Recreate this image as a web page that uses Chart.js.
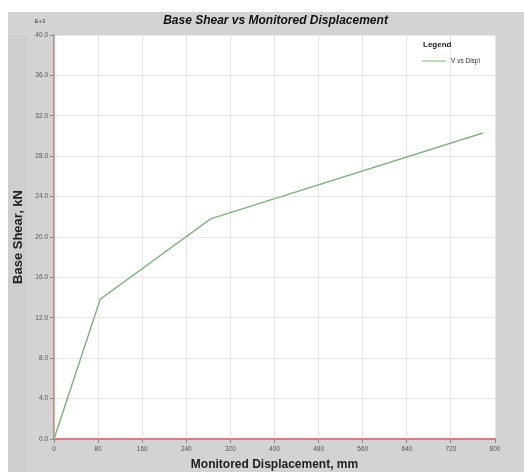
<!DOCTYPE html>
<html>
<head>
<meta charset="utf-8">
<script src="https://cdn.jsdelivr.net/npm/chart.js@4/dist/chart.umd.min.js"></script>
<style>
  html,body{margin:0;padding:0;background:#fff;}
  #wrap{width:524px;height:472px;position:relative;}
</style>
</head>
<body>
<div id="wrap"><canvas id="c" width="524" height="472"></canvas></div>
<script>
// ---- data ----
const displacement = [0, 84, 284, 778];          // mm
const baseShear    = [0, 13.85, 21.8, 30.3];     // kN x 1E+3
const xTicks = [0, 80, 160, 240, 320, 400, 480, 560, 640, 720, 800];
const yTicks = [0, 4, 8, 12, 16, 20, 24, 28, 32, 36, 40];
const seriesLabel = 'V vs Displ';
const chartTitle = 'Base Shear vs Monitored Displacement';
const xTitle = 'Monitored Displacement, mm';
const yTitle = 'Base Shear, kN';
const yUnit = 'E+3';

const FONT = '"Liberation Sans", Arial, sans-serif';
const GRAY = '#d3d3d3';

const bgPlugin = {
  id: 'bg',
  beforeDraw(chart) {
    const {ctx, chartArea: a} = chart;
    ctx.save();
    ctx.fillStyle = '#ffffff';
    ctx.fillRect(0, 0, chart.width, chart.height);
    ctx.fillStyle = GRAY;
    ctx.fillRect(8, 12, chart.width - 8, chart.height - 12);
    ctx.fillStyle = '#cecece';
    ctx.fillRect(8, 35, 19, chart.height - 35);
    ctx.fillStyle = '#ffffff';
    ctx.fillRect(a.left, a.top, a.right - a.left, a.bottom - a.top);
    ctx.restore();
  },
  afterDraw(chart) {
    const {ctx, chartArea: a} = chart;
    ctx.save();
    // title
    ctx.fillStyle = '#111';
    ctx.font = 'italic bold 12px ' + FONT;
    ctx.textAlign = 'center';
    ctx.textBaseline = 'middle';
    ctx.fillText(chartTitle, (a.left + a.right) / 2 + 1, 21);
    // unit
    ctx.font = '6px ' + FONT;
    ctx.fillStyle = '#444';
    ctx.textAlign = 'center';
    ctx.fillText(yUnit, 40, 21);
    // legend
    ctx.font = 'bold 8px ' + FONT;
    ctx.fillStyle = '#222';
    ctx.textAlign = 'left';
    ctx.fillText('Legend', 423, 45);
    ctx.strokeStyle = '#8cc48c';
    ctx.lineWidth = 1.2;
    ctx.beginPath();
    ctx.moveTo(422, 61);
    ctx.lineTo(446, 61);
    ctx.stroke();
    ctx.font = '6.5px ' + FONT;
    ctx.fillStyle = '#333';
    ctx.fillText(chart.data.datasets[0].label, 451, 61);
    ctx.restore();
  }
};

new Chart(document.getElementById('c'), {
  type: 'line',
  data: {
    datasets: [{
      label: seriesLabel,
      data: displacement.map((x, i) => ({x, y: baseShear[i]})),
      borderColor: '#80b480',
      borderWidth: 1.5,
      pointRadius: 0,
      tension: 0,
      fill: false
    }]
  },
  options: {
    responsive: false,
    animation: false,
    devicePixelRatio: 1,
    layout: {padding: {left: 8, top: 35, right: 29, bottom: 0}},
    plugins: {legend: {display: false}, title: {display: false}, tooltip: {enabled: false}},
    scales: {
      x: {
        type: 'linear', min: 0, max: 800,
        afterBuildTicks: s => { s.ticks = xTicks.map(v => ({value: v})); },
        afterFit: s => { s.height = 33; },
        ticks: {font: {size: 6.5, family: FONT}, color: '#555', padding: 2, maxRotation: 0,
                callback: v => String(v)},
        grid: {color: '#e6e6e6', tickLength: 4, tickColor: '#888', lineWidth: 1},
        border: {color: '#e07a7a', width: 2},
        title: {display: true, text: xTitle, font: {size: 12, weight: 'bold', family: FONT},
                color: '#222', padding: {top: 2, bottom: 0}}
      },
      y: {
        type: 'linear', min: 0, max: 40,
        afterBuildTicks: s => { s.ticks = yTicks.map(v => ({value: v})); },
        afterFit: s => { s.width = 46; },
        ticks: {font: {size: 6.5, family: FONT}, color: '#555', padding: 2,
                callback: v => v.toFixed(1)},
        grid: {color: '#e6e6e6', tickLength: 4, tickColor: '#888', lineWidth: 1},
        border: {color: '#e07a7a', width: 1.5},
        title: {display: true, text: yTitle, font: {size: 13, weight: 'bold', family: FONT},
                color: '#222', padding: {top: 3, bottom: 4}}
      }
    }
  },
  plugins: [bgPlugin]
});
</script>
</body>
</html>
